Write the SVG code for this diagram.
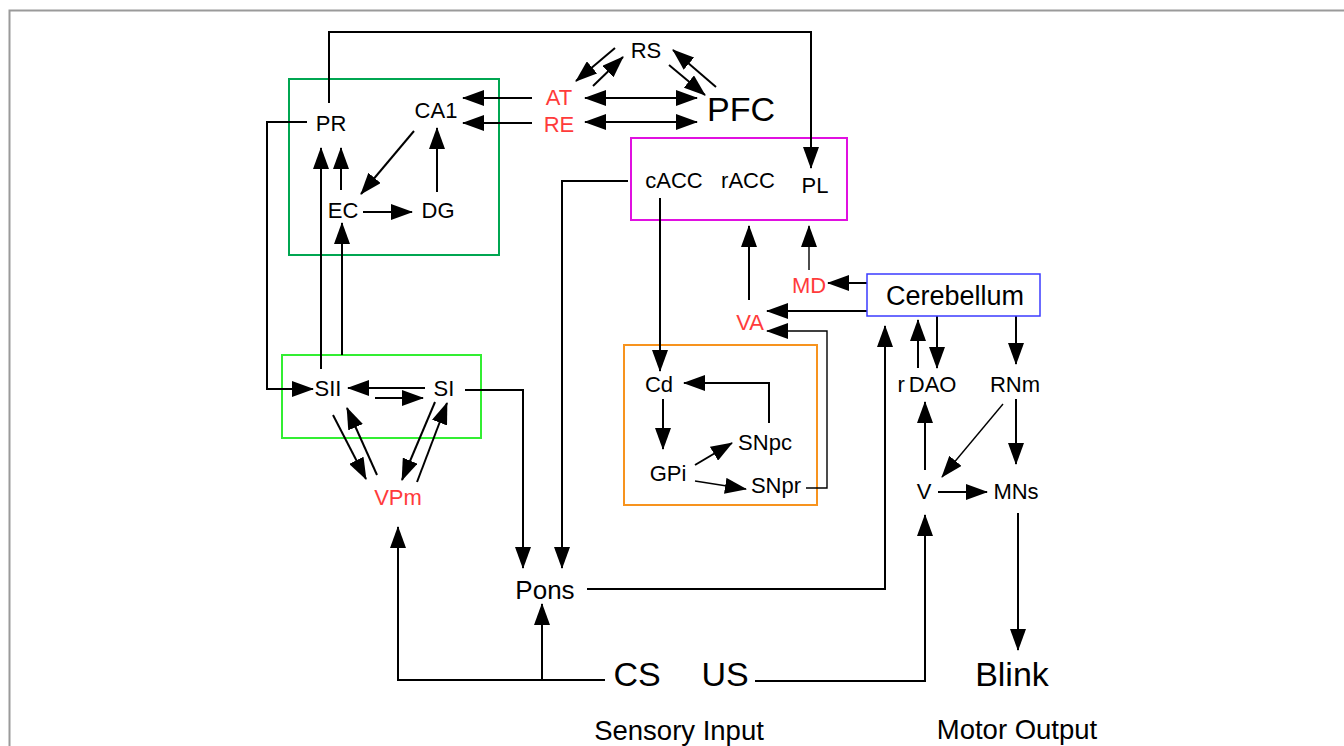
<svg xmlns="http://www.w3.org/2000/svg" width="1344" height="746" viewBox="0 0 1344 746">
<style>
text{font-family:"Liberation Sans",Arial,sans-serif;font-size:22px;fill:#000;text-anchor:middle}
.red{fill:#ff3b3b}
.big{font-size:34px}
.mid{font-size:26px}
.cer{font-size:27px}
.cap{font-size:27.5px}
.c path{fill:none;stroke:#000;stroke-width:2}
.c .thin{stroke-width:1.4}
.box{fill:none;stroke-width:2}
</style>
<defs>
<marker id="a" markerUnits="userSpaceOnUse" markerWidth="22" markerHeight="16" refX="21" refY="8" orient="auto-start-reverse" viewBox="0 0 22 16">
<path d="M0,0 L22,8 L0,16 z" fill="#000"/>
</marker>
</defs>
<rect width="1344" height="746" fill="#fff"/>
<path d="M9.5,746 V10.5 H1344" fill="none" stroke="#9a9a9a" stroke-width="2"/>

<g id="boxes">
<rect id="hippo-box" class="box" x="289" y="79" width="210" height="176" stroke="#00a651"/>
<rect id="ssc-box" class="box" x="282" y="355" width="199" height="83" stroke="#33ee33"/>
<rect id="acc-box" class="box" x="631" y="138" width="216" height="82" stroke="#e010e0"/>
<rect id="bg-box" class="box" x="624" y="345" width="193" height="160" stroke="#f7931e" stroke-width="2.5"/>
</g>

<g id="connectors" class="c">
<path d="M329,103 V32 H811 V168" marker-end="url(#a)"/>
<path d="M307,122 H267 V389 H313" marker-end="url(#a)"/>
<path d="M532,98 H463" marker-end="url(#a)"/>
<path d="M532,123 H463" marker-end="url(#a)"/>
<path d="M414,131 L361,194" marker-end="url(#a)"/>
<path d="M321,369 V148" marker-end="url(#a)"/>
<path d="M341,190 V148" marker-end="url(#a)"/>
<path d="M363,212 H412" marker-end="url(#a)"/>
<path d="M437,192 V128" marker-end="url(#a)"/>
<path d="M342,355 V223" marker-end="url(#a)"/>
<path d="M425,388 H348" marker-end="url(#a)"/>
<path d="M375,398 H423" marker-end="url(#a)"/>
<path d="M465,390 H523 V568" marker-end="url(#a)"/>
<path d="M333,415 L366,479" marker-end="url(#a)"/>
<path d="M377,475 L347,408" marker-end="url(#a)"/>
<path d="M435,402 L402,480" marker-end="url(#a)"/>
<path d="M417,482 L447,403" marker-end="url(#a)"/>
<path d="M605,680 H398 V527" marker-end="url(#a)" stroke-width="2.5"/>
<path d="M542,680 V604" marker-end="url(#a)"/>
<path d="M628,181 H562 V568" marker-end="url(#a)"/>
<path d="M587,589 H885 V326" marker-end="url(#a)"/>
<path d="M755,681 H925 V515" marker-end="url(#a)" stroke-width="2.5"/>
<path d="M1018,513 V650" marker-end="url(#a)"/>
<path d="M615,48 L576,81" marker-end="url(#a)"/>
<path d="M593,86 L623,57" marker-end="url(#a)"/>
<path d="M669,65 L705,95" marker-end="url(#a)"/>
<path d="M716,87 L673,50" marker-end="url(#a)"/>
<path d="M585,98 H697" marker-start="url(#a)" marker-end="url(#a)"/>
<path d="M585,122 H697" marker-start="url(#a)" marker-end="url(#a)"/>
<path d="M660,198 V371" marker-end="url(#a)"/>
<path d="M749,300 V226" marker-end="url(#a)"/>
<path class="thin" d="M809,270 V226" marker-end="url(#a)"/>
<path d="M867,283 H828" marker-end="url(#a)" stroke-width="3"/>
<path d="M867,311 H767" marker-end="url(#a)"/>
<path class="thin" d="M806,488 H827 V331 H767" marker-end="url(#a)"/>
<path d="M769,423 V383 H684" marker-end="url(#a)"/>
<path d="M663,399 V449" marker-end="url(#a)"/>
<path d="M695,465 L732,443" marker-end="url(#a)"/>
<path class="thin" d="M695,481 L746,489" marker-end="url(#a)"/>
<path d="M918,368 V320" marker-end="url(#a)"/>
<path d="M937,316 V368" marker-end="url(#a)"/>
<path d="M1016,316 V364" marker-end="url(#a)"/>
<path d="M925,470 V402" marker-end="url(#a)"/>
<path class="thin" d="M1003,404 L942,477" marker-end="url(#a)"/>
<path d="M1016,399 V464" marker-end="url(#a)"/>
<path d="M938,492 H987" marker-end="url(#a)"/>
</g>

<g id="n-PR"><text x="331" y="131">PR</text></g>
<g id="n-CA1"><text x="436" y="118">CA1</text></g>
<g id="n-EC"><text x="343" y="218">EC</text></g>
<g id="n-DG"><text x="438" y="218">DG</text></g>
<g id="n-SII"><text x="328" y="396">SII</text></g>
<g id="n-SI"><text x="444" y="396">SI</text></g>
<g id="n-VPm"><text class="red" x="398" y="505">VPm</text></g>
<g id="n-AT"><text class="red" x="559" y="105">AT</text></g>
<g id="n-RE"><text class="red" x="559" y="132">RE</text></g>
<g id="n-RS"><text x="646" y="58">RS</text></g>
<g id="n-PFC"><text class="big" x="741" y="121">PFC</text></g>
<g id="n-cACC"><text x="674" y="188">cACC</text></g>
<g id="n-rACC"><text x="748" y="188">rACC</text></g>
<g id="n-PL"><text x="815" y="193">PL</text></g>
<g id="n-MD"><text class="red" x="809" y="293">MD</text></g>
<g id="n-VA"><text class="red" x="750" y="330">VA</text></g>
<g id="n-Cerebellum"><rect x="867" y="274" width="173" height="42" fill="#fff" stroke="#3b3bff" stroke-width="1.5"/><text class="cer" x="955" y="305">Cerebellum</text></g>
<g id="n-Cd"><text x="659" y="392">Cd</text></g>
<g id="n-GPi"><text x="668" y="481">GPi</text></g>
<g id="n-SNpc"><text x="765" y="450">SNpc</text></g>
<g id="n-SNpr"><text x="776" y="493">SNpr</text></g>
<g id="n-rDAO"><text x="927" y="392">r<tspan dx="4">DAO</tspan></text></g>
<g id="n-RNm"><text x="1015" y="392">RNm</text></g>
<g id="n-V"><text x="924" y="499">V</text></g>
<g id="n-MNs"><text x="1016" y="499">MNs</text></g>
<g id="n-Pons"><text class="mid" x="545" y="599">Pons</text></g>
<g id="n-CS"><text class="big" x="637" y="686">CS</text></g>
<g id="n-US"><text class="big" x="725" y="686">US</text></g>
<g id="n-Blink"><text class="big" x="1012" y="686">Blink</text></g>
<g id="l-sensory"><text class="cap" x="679" y="740">Sensory Input</text></g>
<g id="l-motor"><text class="cap" x="1017" y="739">Motor Output</text></g>
</svg>
